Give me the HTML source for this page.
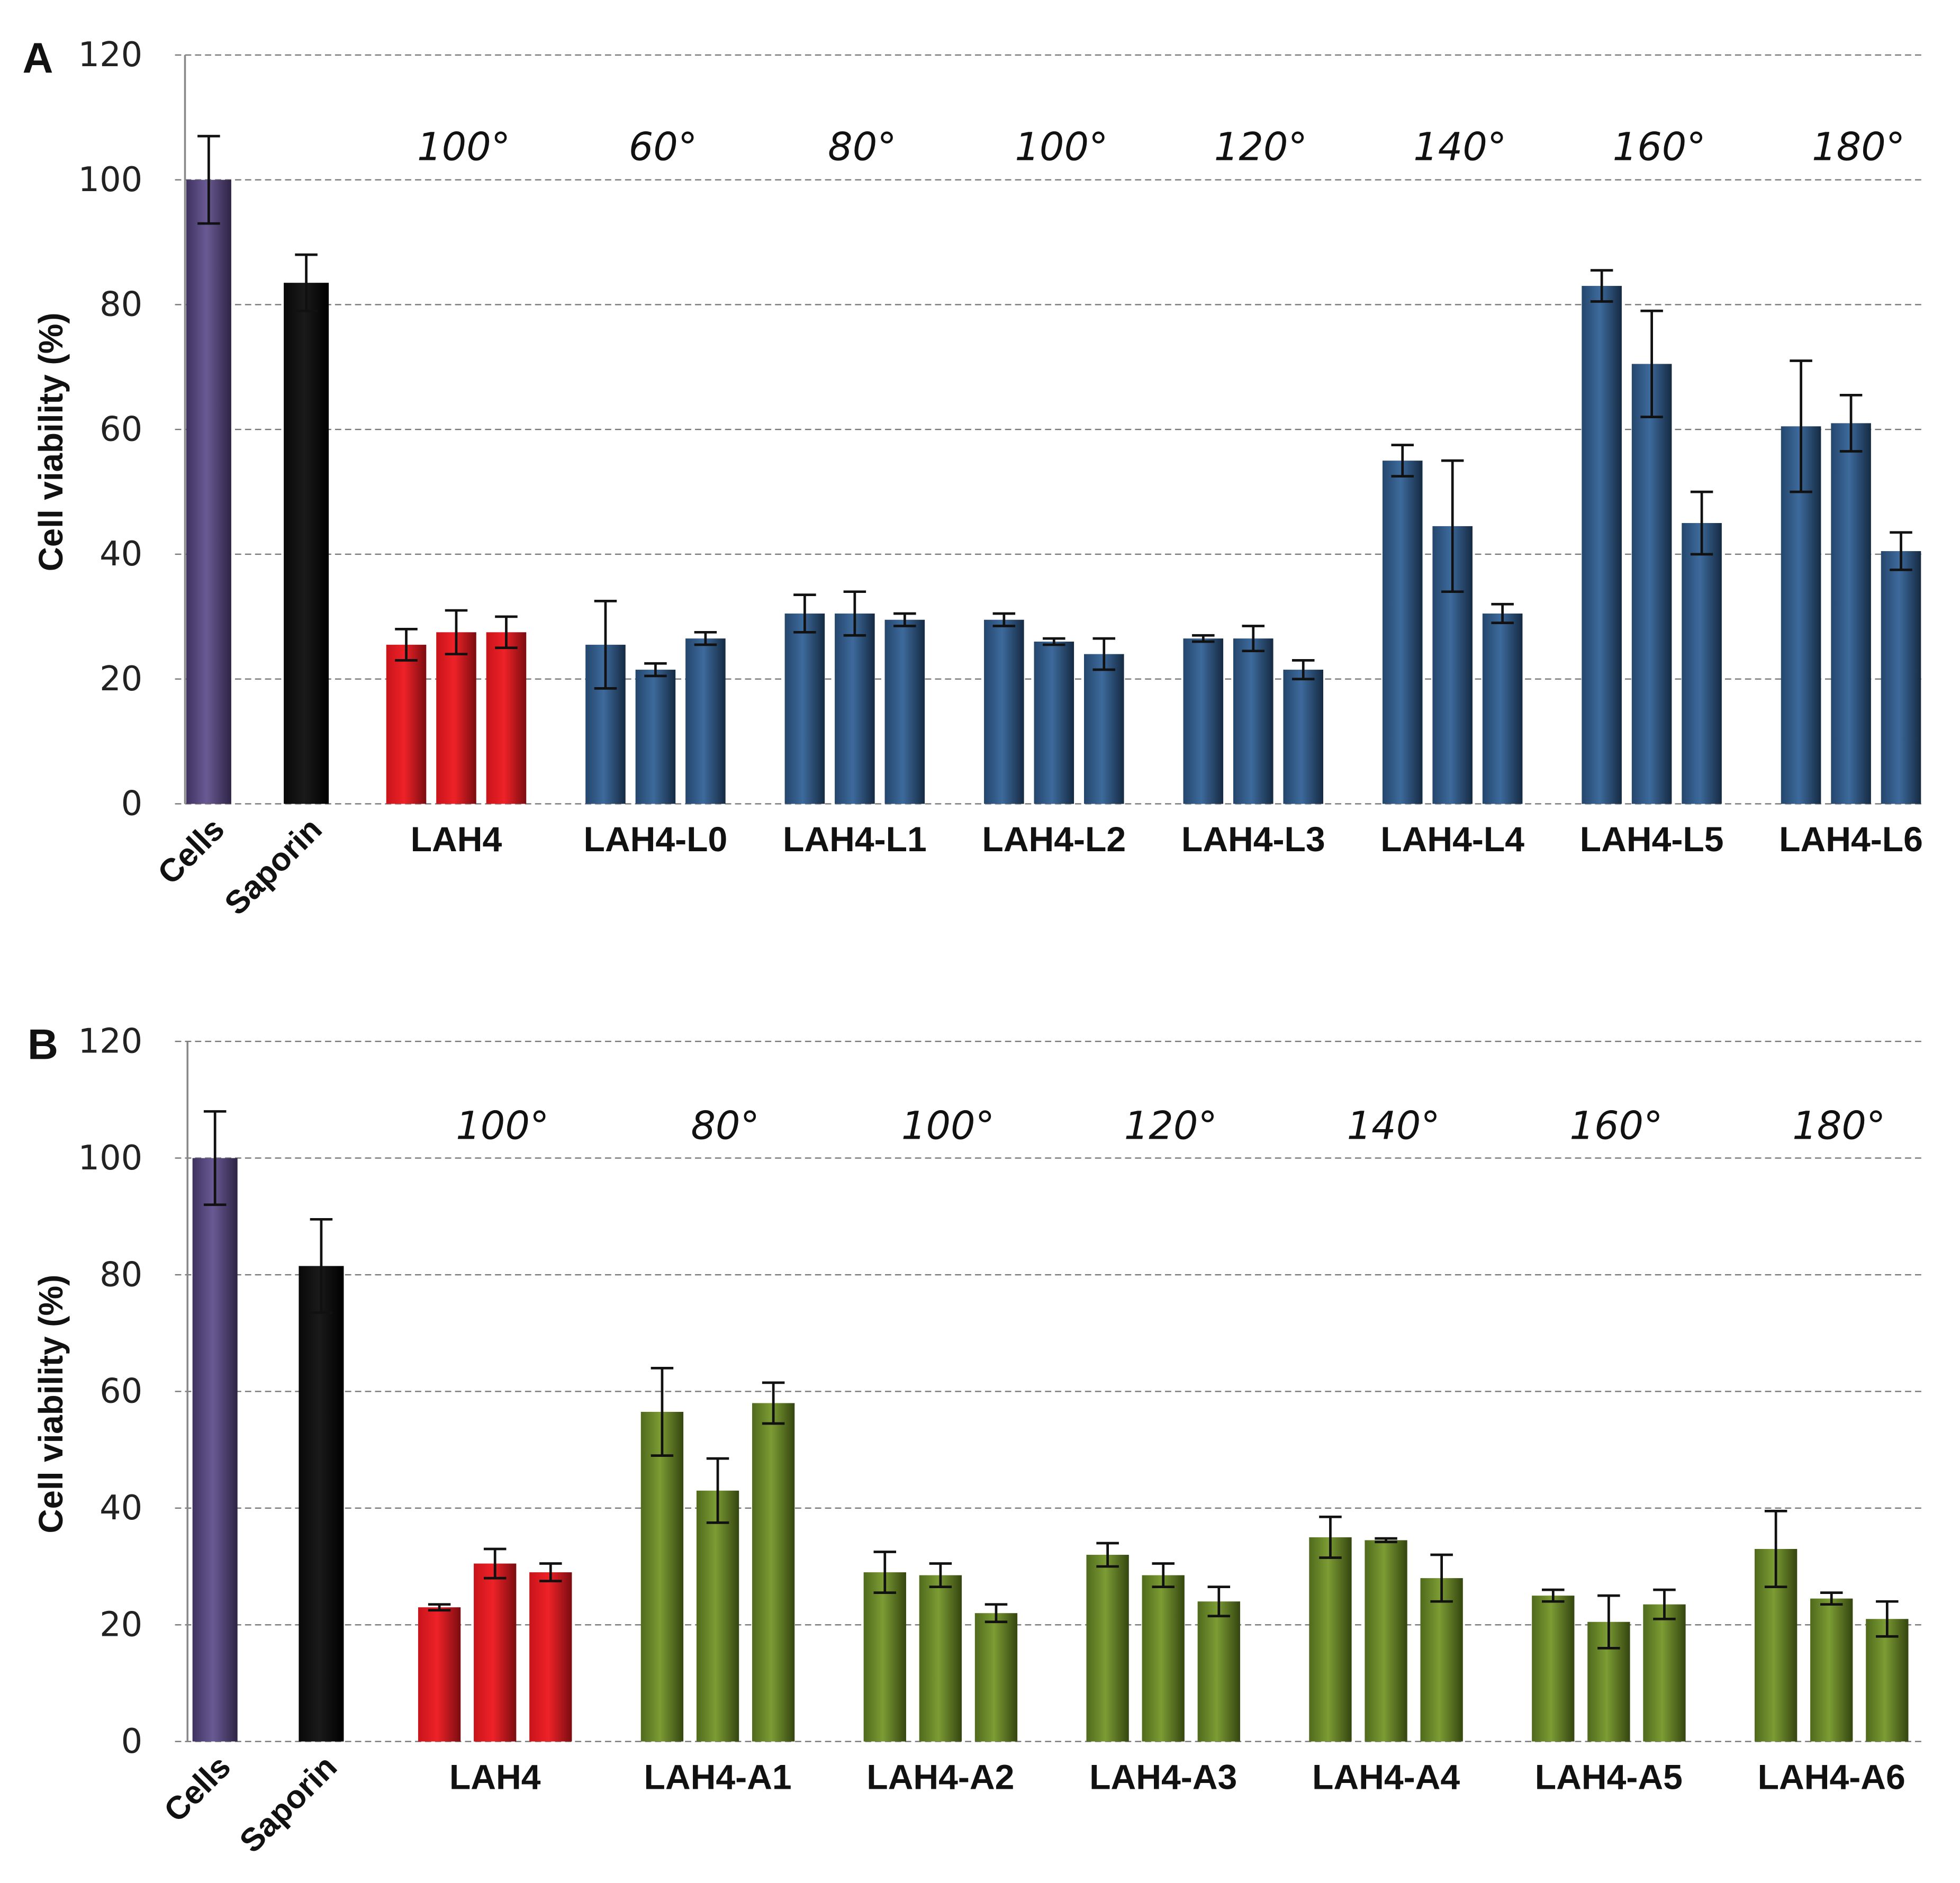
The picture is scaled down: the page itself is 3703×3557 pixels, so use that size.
<!DOCTYPE html>
<html><head><meta charset="utf-8">
<style>html,body{margin:0;padding:0;background:#fff}svg{display:block}</style></head>
<body>
<svg id="fig" width="3703" height="3557" viewBox="0 0 1568 1506.2" preserveAspectRatio="none" xmlns="http://www.w3.org/2000/svg" font-family="'Liberation Sans', sans-serif">
<defs>
<linearGradient id="g-purple" x1="0" x2="1"><stop offset="0" stop-color="#3f3260"/><stop offset="0.45" stop-color="#6a5a94"/><stop offset="1" stop-color="#2e2445"/></linearGradient>
<linearGradient id="g-black" x1="0" x2="1"><stop offset="0" stop-color="#080808"/><stop offset="0.45" stop-color="#1a1a1a"/><stop offset="1" stop-color="#000"/></linearGradient>
<linearGradient id="g-red" x1="0" x2="1"><stop offset="0" stop-color="#c8141a"/><stop offset="0.45" stop-color="#ee2228"/><stop offset="1" stop-color="#7a0c10"/></linearGradient>
<linearGradient id="g-blue" x1="0" x2="1"><stop offset="0" stop-color="#24466c"/><stop offset="0.45" stop-color="#3d6a9c"/><stop offset="1" stop-color="#152a42"/></linearGradient>
<linearGradient id="g-green" x1="0" x2="1"><stop offset="0" stop-color="#4f6a1c"/><stop offset="0.45" stop-color="#7c9c34"/><stop offset="1" stop-color="#34450f"/></linearGradient>
</defs>
</svg>
<script>
// Panel A data
const aGroups = ["LAH4","LAH4-L0","LAH4-L1","LAH4-L2","LAH4-L3","LAH4-L4","LAH4-L5","LAH4-L6"];
const aAngles = ["100°","60°","80°","100°","120°","140°","160°","180°"];
const aControls = [100, 83.5];
const aControlErr = [7, 4.5];
const aValues = [[25.5,27.5,27.5],[25.5,21.5,26.5],[30.5,30.5,29.5],[29.5,26,24],[26.5,26.5,21.5],[55,44.5,30.5],[83,70.5,45],[60.5,61,40.5]];
const aErrors = [[2.5,3.5,2.5],[7,1,1],[3,3.5,1],[1,0.5,2.5],[0.5,2,1.5],[2.5,10.5,1.5],[2.5,8.5,5],[10.5,4.5,3]];
// Panel B data
const bGroups = ["LAH4","LAH4-A1","LAH4-A2","LAH4-A3","LAH4-A4","LAH4-A5","LAH4-A6"];
const bAngles = ["100°","80°","100°","120°","140°","160°","180°"];
const bControls = [100, 81.5];
const bControlErr = [8, 8];
const bValues = [[23,30.5,29],[56.5,43,58],[29,28.5,22],[32,28.5,24],[35,34.5,28],[25,20.5,23.5],[33,24.5,21]];
const bErrors = [[0.5,2.5,1.5],[7.5,5.5,3.5],[3.5,2,1.5],[2,2,2.5],[3.5,0.3,4],[1,4.5,2.5],[6.5,1,3]];
const yTicks = [0,20,40,60,80,100,120];
const controlNames = ["Cells","Saporin"];

const NS = "http://www.w3.org/2000/svg";
const svg = document.getElementById('fig');
function mk(tag, attrs, parent){const e=document.createElementNS(NS,tag);for(const k in attrs)e.setAttribute(k,attrs[k]);(parent||svg).appendChild(e);return e;}

function panel(cfg){
  const g = mk('g',{});
  
  
  const y = v => cfg.y0 - (v/120)*(cfg.y0-cfg.y120);
  yTicks.forEach(t=>{
    const l = mk('line',{x1:140,x2:1540,y1:y(t),y2:y(t),stroke:'#777','stroke-width':1,'stroke-dasharray':'5,3'},g);
    
    
    const tx = mk('text',{x:114,y:y(t)+9,'text-anchor':'end','font-size':27,fill:'#222','font-family':"'DejaVu Sans', sans-serif"},g);
    tx.textContent = t;
    
    
  });
  const ax = mk('line',{x1:cfg.axisX,x2:cfg.axisX,y1:y(120),y2:y(0),stroke:'#888','stroke-width':1.5},g);
  
  
  const yt = mk('text',{x:0,y:0,transform:`translate(50 ${(y(0)+y(120))/2+10}) rotate(-90)`,'text-anchor':'middle','font-size':27,'font-weight':'bold',fill:'#111'},g);
  yt.textContent='Cell viability (%)';
  
  
  const pl = mk('text',{x:cfg.letterX,y:y(120)+14,'font-size':34,'font-weight':'bold',fill:'#111'},g);
  pl.textContent=cfg.letter;
  
  
  function bar(cx,w,v,e,fill,name){
    const r = mk('rect',{x:cx-w/2,y:y(v),width:w,height:y(0)-y(v),fill:`url(#${fill})`},g);
    
    
    const eg = mk('path',{d:`M${cx} ${y(v+e)}V${y(v-e)}M${cx-9} ${y(v+e)}H${cx+9}M${cx-9} ${y(v-e)}H${cx+9}`,stroke:'#111','stroke-width':2,fill:'none'},g);
    
    
  }
  cfg.controls.forEach((v,i)=>{
    bar(cfg.ctrlX[i],36,v,cfg.ctrlErr[i],i==0?'g-purple':'g-black','bar-'+controlNames[i].toLowerCase());
    const t = mk('text',{x:0,y:0,transform:`translate(${cfg.ctrlX[i]+14} ${y(0)+22}) rotate(-45)`,'text-anchor':'end','font-size':26,'font-weight':'bold',fill:'#111'},g);
    t.textContent=controlNames[i];
    
    
  });
  cfg.groups.forEach((gn,gi)=>{
    const c = cfg.gStart + gi*cfg.gStep;
    cfg.values[gi].forEach((v,j)=>{
      bar(c+(j-1)*cfg.inner, cfg.barW, v, cfg.errors[gi][j], gi==0?'g-red':cfg.color, 'bar-'+gn.toLowerCase()+'-'+(j+1));
    });
    const t = mk('text',{x:c,y:y(0)+38,'text-anchor':'middle','font-size':28,'font-weight':'bold',fill:'#111'},g);
    t.textContent=gn;
    
    
    const a = mk('text',{x:c+6,y:cfg.angleY,'text-anchor':'middle','font-size':31,'font-style':'italic',fill:'#111','font-family':"'DejaVu Sans', sans-serif"},g);
    a.textContent=cfg.angles[gi];
    
    
  });
}
panel({name:'panel-a',letter:'A',letterX:18,y0:643,y120:44,axisX:148,ctrlX:[167,245],controls:aControls,ctrlErr:aControlErr,
  groups:aGroups,angles:aAngles,values:aValues,errors:aErrors,gStart:365,gStep:159.4,inner:40,barW:32,color:'g-blue',angleY:128});
panel({name:'panel-b',letter:'B',letterX:22,y0:1393,y120:833,axisX:150,ctrlX:[172,257],controls:bControls,ctrlErr:bControlErr,
  groups:bGroups,angles:bAngles,values:bValues,errors:bErrors,gStart:396,gStep:178.2,inner:44.5,barW:34,color:'g-green',angleY:911});
</script>
</body></html>
